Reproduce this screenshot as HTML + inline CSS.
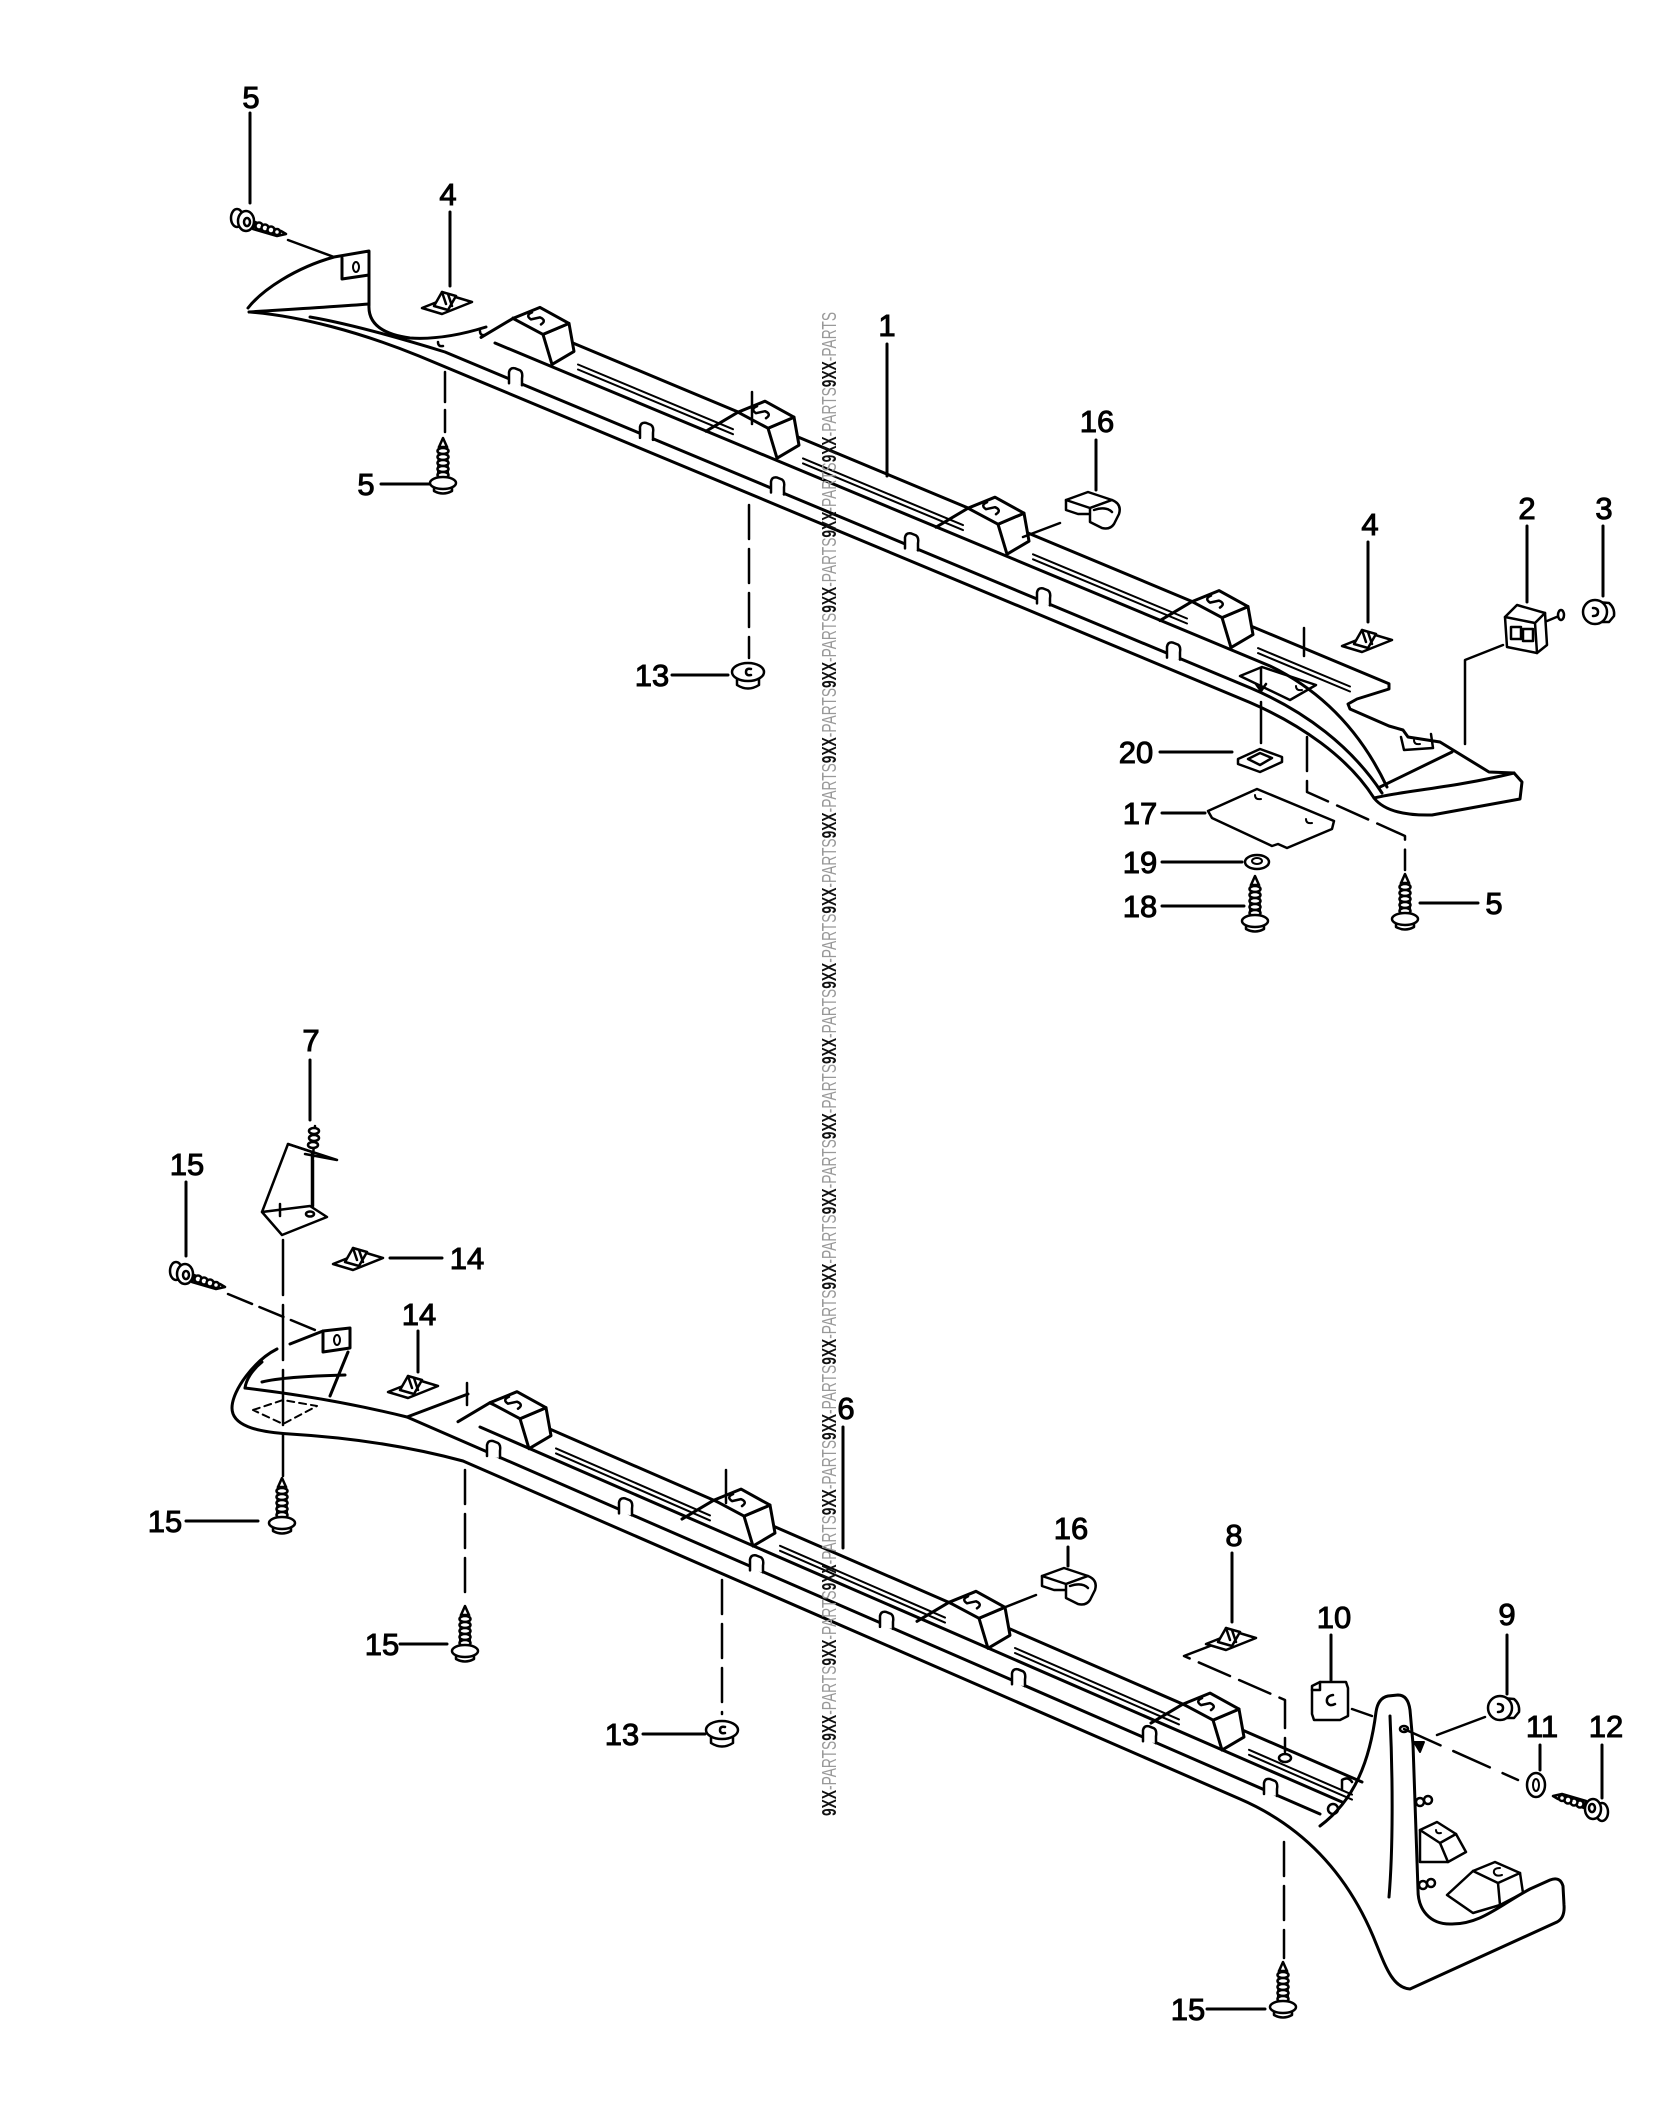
<!DOCTYPE html>
<html><head><meta charset="utf-8"><style>html,body{margin:0;padding:0;background:#fff}svg{display:block}</style></head>
<body>
<svg xmlns="http://www.w3.org/2000/svg" xmlns:xlink="http://www.w3.org/1999/xlink" width="1656" height="2121" viewBox="0 0 1656 2121">
<rect width="1656" height="2121" fill="#fff"/>
<defs>
<g id="blk" stroke="#000" stroke-width="3" stroke-linejoin="round" stroke-linecap="round">
<path d="M-32,19 L0,0" fill="none"/>
<path d="M30,16 L56,5 L61,33 L39,46 Z" fill="#fff"/>
<path d="M0,0 L27,-11 L56,5 L30,16 Z" fill="#fff"/>
<path d="M19,-6 Q12,-3 18,1 L27,-1 Q34,2 28,6" fill="none" stroke-width="2.5"/>
</g>
<g id="tab"><path d="M-6,2 L-6,-9 Q-5,-14 0,-13 L5,-11 Q8,-9 7,-3 L7,4" fill="#fff" stroke="#000" stroke-width="2.5" stroke-linejoin="round"/></g>
<g id="vs" stroke="#000" stroke-width="2.5" fill="#fff" stroke-linejoin="round">
<path d="M0,0 L-4,9 L4,9 Z"/>
<path d="M-4,9 L-5,40 L5,40 L4,9"/>
<ellipse cx="0" cy="13" rx="5.5" ry="3"/><ellipse cx="0" cy="19" rx="5.5" ry="3"/><ellipse cx="0" cy="25" rx="5.5" ry="3"/><ellipse cx="0" cy="31" rx="5.5" ry="3"/><ellipse cx="0" cy="37" rx="5.5" ry="3"/>
<path d="M-9,47 L-9,53 Q0,58 9,53 L9,47"/>
<ellipse cx="0" cy="45" rx="13" ry="6"/>
</g>
<g id="hs" stroke="#000" stroke-width="2.5" fill="#fff" stroke-linejoin="round">
<path d="M14,3 L40,12 L45,15 L36,17 L12,10 Z"/>
<circle cx="18" cy="7" r="3.5"/><circle cx="24" cy="9" r="3.5"/><circle cx="30" cy="11" r="3.5"/><circle cx="36" cy="13" r="3"/>
<ellipse cx="-4" cy="-1" rx="6" ry="9"/>
<ellipse cx="5" cy="2" rx="8" ry="10"/>
<ellipse cx="6" cy="3" rx="3" ry="4"/>
</g>
<g id="n13" stroke="#000" stroke-width="2.5" fill="#fff">
<path d="M-11,2 L-11,13 Q0,20 11,13 L11,2"/>
<ellipse cx="0" cy="0" rx="16" ry="9"/>
<path d="M3,-3 Q-2,-4 -2,0 Q-2,4 3,3" fill="none"/>
</g>
<g id="n3" stroke="#000" stroke-width="2.5" fill="#fff">
<path d="M2,-10 L14,-9 Q20,-4 19,4 L14,10 L2,10 Z"/>
<circle cx="0" cy="0" r="12"/>
<path d="M-2,-4 Q3,-4 3,0 Q3,4 -2,4" fill="none"/>
</g>
<g id="sc" stroke="#000" stroke-width="2.5" fill="#fff" stroke-linejoin="round">
<path d="M0,12 L30,0 L50,6 L20,18 Z"/>
<path d="M12,10 L20,-4 L34,0 L26,14 Z"/>
<path d="M20,-4 L24,8 M26,-2 L30,10" fill="none"/>
</g>
<g id="c16" stroke="#000" stroke-width="2.5" fill="#fff" stroke-linejoin="round">
<path d="M2,8 L2,18 L14,22 L26,22" fill="none"/>
<path d="M2,8 L24,0 L48,8 L26,16 Z"/>
<path d="M26,16 L48,8 Q58,12 55,22 L50,32 Q46,38 38,36 L26,30 Z"/>
<path d="M30,18 Q42,14 48,20" fill="none"/>
</g>
</defs>

<g fill="none" stroke="#000" stroke-width="3" stroke-linecap="round" stroke-linejoin="round">

<!-- ================= TOP PANEL (1) ================= -->
<path d="M248,308 C262,290 295,268 334,257 L369,251 L369,305 C368,322 380,334 410,338 C440,340 470,332 486,327"/>
<path d="M342,258 L342,279 L369,275"/>
<ellipse cx="356" cy="267" rx="3" ry="5" stroke-width="2"/>
<path d="M249,312 C280,310 330,307 369,304"/>
<path d="M438,342 q0,5 5,4 M480,331 q0,5 5,4" stroke-width="2.5"/>

<path d="M513,318 L1389,683.7 L1389,689 L1357,699 L1348,704 L1350,709 L1389,726 L1403,730 L1408,737 L1440,742 L1489,772 L1514,773"/>
<g stroke-width="2">
<path d="M578,364.5 L733,429.2 M578,369.5 L733,434.2"/>
<path d="M803,458.4 L963,525.1 M803,463.4 L963,530.1"/>
<path d="M1033,554.3 L1187,618.5 M1033,559.3 L1187,623.5"/>
<path d="M1258,648.1 L1350,686.5 M1258,653.1 L1350,691.5"/>
</g>
<path d="M495,343 L1270,666 C1320,690 1360,730 1387,787"/>
<use xlink:href="#blk" transform="translate(513,318.4)"/>
<use xlink:href="#blk" transform="translate(738,412.2)"/>
<use xlink:href="#blk" transform="translate(968,508.2)"/>
<use xlink:href="#blk" transform="translate(1192,601.6)"/>
<path d="M310,317 C345,323 390,335 445,352 L1250,687.8 C1305,711 1352,747 1382,793"/>
<path d="M250,312 C300,316 360,332 419,356 L1250,702.5 C1300,724 1348,757 1374,798 Q1388,816 1432,815 L1520,799 L1522,782 L1514,773"/>
<path d="M1374,798 C1402,791 1452,788 1514,773"/>
<path d="M1452,752 L1380,787"/>
<use xlink:href="#tab" transform="translate(515,381.3)"/>
<use xlink:href="#tab" transform="translate(646,435.9)"/>
<use xlink:href="#tab" transform="translate(777,490.5)"/>
<use xlink:href="#tab" transform="translate(911,546.4)"/>
<use xlink:href="#tab" transform="translate(1043,601.4)"/>
<use xlink:href="#tab" transform="translate(1173,655.6)"/>
<path d="M1240,676 L1262,667 L1316,685 L1290,700 Z" stroke-width="2.5"/>
<path d="M1296,686 q0,5 6,4" stroke-width="2"/>
<path d="M1401,737 L1404,750 L1433,748 L1431,734" stroke-width="2.5"/>
<path d="M1414,740 q0,5 6,4" stroke-width="2"/>

<path d="M250,113 L250,203"/>
<use xlink:href="#hs" transform="translate(241,219)"/>
<path d="M288,240 L334,257" stroke-width="2.5"/>
<path d="M450,212 L450,286"/>
<use xlink:href="#sc" transform="translate(422,296)"/>
<path d="M887,344 L887,476"/>
<path d="M1096,440 L1096,490"/>
<use xlink:href="#c16" transform="translate(1064,492)"/>
<path d="M1060,523 L1023,537" stroke-width="2.5"/>
<path d="M381,484 L432,484"/>
<use xlink:href="#vs" transform="translate(443,438)"/>
<path d="M445,372 L445,432" stroke-dasharray="30 8" stroke-width="2.5"/>
<path d="M672,675 L728,675"/>
<use xlink:href="#n13" transform="translate(748,672)"/>
<path d="M749,505 L749,658" stroke-dasharray="34 10" stroke-width="2.5"/>
<path d="M752,392 L752,424" stroke-width="2.5"/>
<path d="M1368,542 L1368,622"/>
<use xlink:href="#sc" transform="translate(1342,634)"/>
<path d="M1527,526 L1527,602"/>
<g stroke-width="2.5" fill="#fff">
<path d="M1547,621 L1559,616" fill="none"/><ellipse cx="1561" cy="615" rx="3" ry="5"/>
<path d="M1505,617 L1517,605 L1545,613 L1547,645 L1537,653 L1507,647 Z"/>
<path d="M1505,617 L1535,623 L1545,613 M1535,623 L1537,653" fill="none"/>
<rect x="1511" y="627" width="10" height="12"/><rect x="1523" y="629" width="10" height="12"/>
</g>
<path d="M1603,526 L1603,596"/>
<use xlink:href="#n3" transform="translate(1595,612)"/>
<path d="M1503,645 L1465,660 L1465,744" stroke-width="2.5"/>
<path d="M1160,752 L1232,752"/>
<g stroke-width="2.5" fill="#fff">
<path d="M1238,759 L1260,749 L1282,757 L1282,762 L1260,772 L1238,764 Z"/>
<path d="M1248,759 L1260,753 L1272,758 L1260,765 Z"/>
</g>
<path d="M1261,668 L1261,690 M1256,684 L1261,691 L1266,684" stroke-width="2.5"/>
<path d="M1261,702 L1261,743" stroke-width="2.5"/>
<path d="M1304,628 L1304,656" stroke-width="2.5"/>
<path d="M1162,813 L1205,813"/>
<path d="M1208,811 L1257,789 L1334,821 L1332,829 L1287,848 L1278,844 L1272,846 L1212,818 Z" fill="#fff" stroke-width="2.5"/>
<path d="M1255,795 q0,5 6,4 M1306,819 q0,5 6,4" stroke-width="2"/>
<path d="M1162,862 L1242,862"/>
<ellipse cx="1257" cy="862" rx="12" ry="7" fill="#fff" stroke-width="2.5"/>
<ellipse cx="1257" cy="861" rx="5" ry="3" stroke-width="2"/>
<path d="M1162,906 L1244,906"/>
<use xlink:href="#vs" transform="translate(1255,876)"/>
<path d="M1478,903 L1420,903"/>
<use xlink:href="#vs" transform="translate(1405,874)"/>
<path d="M1307,737 L1307,792 L1405,836 L1405,870" stroke-dasharray="34 10" stroke-width="2.5"/>

<!-- ================= BOTTOM PANEL (6) ================= -->
<path d="M277,1349 C255,1360 232,1390 232,1408 C232,1425 255,1432 290,1434 C340,1437 400,1444 463,1461 L1240,1799 C1300,1825 1345,1870 1373,1936 C1385,1965 1392,1988 1410,1989 L1557,1922 Q1565,1918 1564,1905 L1563,1886 Q1560,1876 1550,1880 L1530,1889 C1500,1905 1480,1925 1450,1924 C1430,1924 1418,1910 1418,1890 L1413,1744 L1410,1710 Q1408,1695 1398,1695 L1388,1696 Q1378,1698 1376,1712 C1370,1760 1355,1800 1320,1826"/>
<path d="M245,1388 Q330,1398 407,1417 L1320,1814"/>
<path d="M262,1362 C252,1370 246,1380 245,1388"/>
<path d="M262,1382 C278,1378 305,1376 345,1375"/>
<path d="M290,1344 L323,1331"/>
<path d="M323,1331 L323,1352 L350,1348 L350,1328 Z"/>
<ellipse cx="337" cy="1340" rx="3" ry="5" stroke-width="2"/>
<path d="M348,1352 L330,1396"/>
<path d="M253,1410 L283,1400 L317,1406 L283,1424 Z" stroke-dasharray="7 5" stroke-width="2"/>
<path d="M407,1417 L468,1394"/>
<path d="M480,1427 L1342,1802"/>
<path d="M490,1403 L1362,1782"/>
<g stroke-width="2">
<path d="M556,1448.4 L710,1515.4 M556,1453.4 L710,1520.4"/>
<path d="M780,1545.8 L945,1617.6 M780,1550.8 L945,1622.6"/>
<path d="M1015,1648 L1179,1719.4 M1015,1653 L1179,1724.4"/>
<path d="M1249,1749.8 L1352,1794.6 M1249,1754.8 L1352,1799.6"/>
</g>
<use xlink:href="#blk" transform="translate(490,1402.7)"/>
<use xlink:href="#blk" transform="translate(714,1500.1)"/>
<use xlink:href="#blk" transform="translate(949,1602.3)"/>
<use xlink:href="#blk" transform="translate(1183,1704.1)"/>
<use xlink:href="#tab" transform="translate(493,1454)"/>
<use xlink:href="#tab" transform="translate(625,1511.4)"/>
<use xlink:href="#tab" transform="translate(756,1568.4)"/>
<use xlink:href="#tab" transform="translate(886,1624.9)"/>
<use xlink:href="#tab" transform="translate(1018,1682.3)"/>
<use xlink:href="#tab" transform="translate(1149,1739.3)"/>
<use xlink:href="#tab" transform="translate(1270,1792)"/>
<ellipse cx="1285" cy="1758" rx="6" ry="4" stroke-width="2.5"/>
<circle cx="1333" cy="1809" r="5" stroke-width="2.5"/>
<path d="M1342,1790 L1342,1780 Q1348,1776 1352,1782" stroke-width="2.5"/>
<path d="M1390,1716 C1393,1780 1393,1850 1389,1897"/>
<ellipse cx="1404" cy="1729" rx="4" ry="3" stroke-width="2.5"/>
<path d="M1414,1742 L1420,1752 L1424,1742 Z" stroke-width="2" fill="#000"/>
<g stroke-width="2.5">
<path d="M1420,1830 L1437,1822 L1456,1834 L1440,1843 Z"/>
<path d="M1440,1843 L1448,1862 L1466,1852 L1456,1834"/>
<path d="M1420,1830 L1420,1862 L1448,1862"/>
<path d="M1473,1871 L1495,1862 L1520,1873 L1498,1883 Z"/>
<path d="M1498,1883 L1500,1905 L1523,1893 L1520,1873"/>
<path d="M1473,1871 L1447,1895 L1473,1913 L1500,1905"/>
<path d="M1500,1868 Q1493,1868 1494,1873 Q1496,1877 1502,1875" stroke-width="2"/>
<path d="M1436,1830 q0,4 5,3" stroke-width="2"/>
<circle cx="1420" cy="1802" r="4"/><circle cx="1428" cy="1800" r="4"/>
<circle cx="1423" cy="1885" r="4"/><circle cx="1431" cy="1883" r="4"/>
</g>

<path d="M310,1060 L310,1120"/>
<g stroke-width="2.5" fill="#fff">
<path d="M313,1158 L315,1126"/>
<ellipse cx="314" cy="1131" rx="5" ry="3"/><ellipse cx="314" cy="1138" rx="5" ry="3"/><ellipse cx="313" cy="1145" rx="5" ry="3"/>
<path d="M288,1144 L312,1152 L312,1208 L262,1212 Z"/>
<path d="M288,1144 L337,1160 L305,1154" fill="none"/>
<path d="M262,1212 L310,1206 L327,1217 L282,1235 Z"/>
<path d="M280,1204 L280,1216" fill="none"/>
<ellipse cx="310" cy="1214" rx="4" ry="2.5"/>
<path d="M313,1160 L313,1206" fill="none"/>
</g>
<path d="M186,1182 L186,1256"/>
<use xlink:href="#hs" transform="translate(180,1272)"/>
<path d="M228,1294 L315,1330" stroke-dasharray="26 8" stroke-width="2.5"/>
<path d="M390,1258 L442,1258"/>
<use xlink:href="#sc" transform="translate(333,1252)"/>
<path d="M418,1331 L418,1372"/>
<use xlink:href="#sc" transform="translate(388,1380)"/>
<path d="M283,1240 L283,1476" stroke-dasharray="55 10" stroke-width="2.5"/>
<path d="M186,1521 L258,1521"/>
<use xlink:href="#vs" transform="translate(282,1478)"/>
<path d="M400,1644 L447,1644"/>
<use xlink:href="#vs" transform="translate(465,1606)"/>
<path d="M465,1470 L465,1600" stroke-dasharray="34 10" stroke-width="2.5"/>
<path d="M467,1383 L467,1405" stroke-width="2.5"/>
<path d="M643,1734 L705,1734"/>
<use xlink:href="#n13" transform="translate(722,1730)"/>
<path d="M722,1580 L722,1714" stroke-dasharray="34 10" stroke-width="2.5"/>
<path d="M726,1470 L726,1503" stroke-width="2.5"/>
<path d="M843,1427 L843,1548"/>
<path d="M1068,1547 L1068,1566"/>
<use xlink:href="#c16" transform="translate(1040,1568)"/>
<path d="M1036,1595 L998,1610" stroke-width="2.5"/>
<path d="M1232,1553 L1232,1622"/>
<use xlink:href="#sc" transform="translate(1206,1632)"/>
<path d="M1210,1646 L1184,1656 L1285,1700 L1285,1752" stroke-dasharray="34 10" stroke-width="2.5"/>
<path d="M1331,1635 L1331,1680"/>
<g stroke-width="2.5" fill="#fff">
<path d="M1312,1686 L1320,1682 L1346,1682 L1348,1688 L1348,1716 L1340,1720 L1314,1720 L1312,1714 Z"/>
<path d="M1320,1682 L1320,1690 L1312,1690" fill="none"/>
<path d="M1333,1695 Q1326,1696 1327,1702 Q1329,1707 1335,1704" fill="none"/>
</g>
<path d="M1352,1709 L1372,1716" stroke-width="2.5"/>
<path d="M1507,1635 L1507,1694"/>
<use xlink:href="#n3" transform="translate(1500,1708)"/>
<path d="M1485,1717 L1437,1735" stroke-width="2.5"/>
<path d="M1404,1729 L1518,1780" stroke-dasharray="40 14" stroke-width="2.5"/>
<path d="M1540,1745 L1540,1770"/>
<ellipse cx="1536" cy="1785" rx="9" ry="12" fill="#fff" stroke-width="2.5"/>
<ellipse cx="1536" cy="1785" rx="3" ry="6" stroke-width="2"/>
<path d="M1602,1745 L1602,1798"/>
<use xlink:href="#hs" transform="translate(1598,1811) scale(-1,-1)"/>
<path d="M1207,2009 L1265,2009"/>
<use xlink:href="#vs" transform="translate(1283,1962)"/>
<path d="M1284,1842 L1284,1958" stroke-dasharray="34 10" stroke-width="2.5"/>
</g>

<g font-family="'Liberation Sans', Arial, sans-serif" font-size="31" fill="#000" stroke="#000" stroke-width="1" text-anchor="middle">
<text x="251" y="108">5</text>
<text x="448" y="205">4</text>
<text x="887" y="336">1</text>
<text x="1097" y="432">16</text>
<text x="366" y="495">5</text>
<text x="652" y="686">13</text>
<text x="1370" y="535">4</text>
<text x="1527" y="519">2</text>
<text x="1604" y="519">3</text>
<text x="1136" y="763">20</text>
<text x="1140" y="824">17</text>
<text x="1140" y="873">19</text>
<text x="1140" y="917">18</text>
<text x="1494" y="914">5</text>
<text x="311" y="1051">7</text>
<text x="187" y="1175">15</text>
<text x="467" y="1269">14</text>
<text x="419" y="1325">14</text>
<text x="165" y="1532">15</text>
<text x="382" y="1655">15</text>
<text x="846" y="1419">6</text>
<text x="622" y="1745">13</text>
<text x="1071" y="1539">16</text>
<text x="1234" y="1546">8</text>
<text x="1334" y="1628">10</text>
<text x="1507" y="1625">9</text>
<text x="1542" y="1737">11</text>
<text x="1606" y="1737">12</text>
<text x="1188" y="2020">15</text>
</g>

<text transform="translate(836,1816) rotate(-90)" font-family="'Liberation Sans', Arial, sans-serif" font-size="20" textLength="1504" lengthAdjust="spacingAndGlyphs"><tspan font-weight="bold" fill="#111">9XX</tspan><tspan fill="#999">-PARTS</tspan><tspan font-weight="bold" fill="#111">9XX</tspan><tspan fill="#999">-PARTS</tspan><tspan font-weight="bold" fill="#111">9XX</tspan><tspan fill="#999">-PARTS</tspan><tspan font-weight="bold" fill="#111">9XX</tspan><tspan fill="#999">-PARTS</tspan><tspan font-weight="bold" fill="#111">9XX</tspan><tspan fill="#999">-PARTS</tspan><tspan font-weight="bold" fill="#111">9XX</tspan><tspan fill="#999">-PARTS</tspan><tspan font-weight="bold" fill="#111">9XX</tspan><tspan fill="#999">-PARTS</tspan><tspan font-weight="bold" fill="#111">9XX</tspan><tspan fill="#999">-PARTS</tspan><tspan font-weight="bold" fill="#111">9XX</tspan><tspan fill="#999">-PARTS</tspan><tspan font-weight="bold" fill="#111">9XX</tspan><tspan fill="#999">-PARTS</tspan><tspan font-weight="bold" fill="#111">9XX</tspan><tspan fill="#999">-PARTS</tspan><tspan font-weight="bold" fill="#111">9XX</tspan><tspan fill="#999">-PARTS</tspan><tspan font-weight="bold" fill="#111">9XX</tspan><tspan fill="#999">-PARTS</tspan><tspan font-weight="bold" fill="#111">9XX</tspan><tspan fill="#999">-PARTS</tspan><tspan font-weight="bold" fill="#111">9XX</tspan><tspan fill="#999">-PARTS</tspan><tspan font-weight="bold" fill="#111">9XX</tspan><tspan fill="#999">-PARTS</tspan><tspan font-weight="bold" fill="#111">9XX</tspan><tspan fill="#999">-PARTS</tspan><tspan font-weight="bold" fill="#111">9XX</tspan><tspan fill="#999">-PARTS</tspan><tspan font-weight="bold" fill="#111">9XX</tspan><tspan fill="#999">-PARTS</tspan><tspan font-weight="bold" fill="#111">9XX</tspan><tspan fill="#999">-PARTS</tspan></text>
</svg>
</body></html>
